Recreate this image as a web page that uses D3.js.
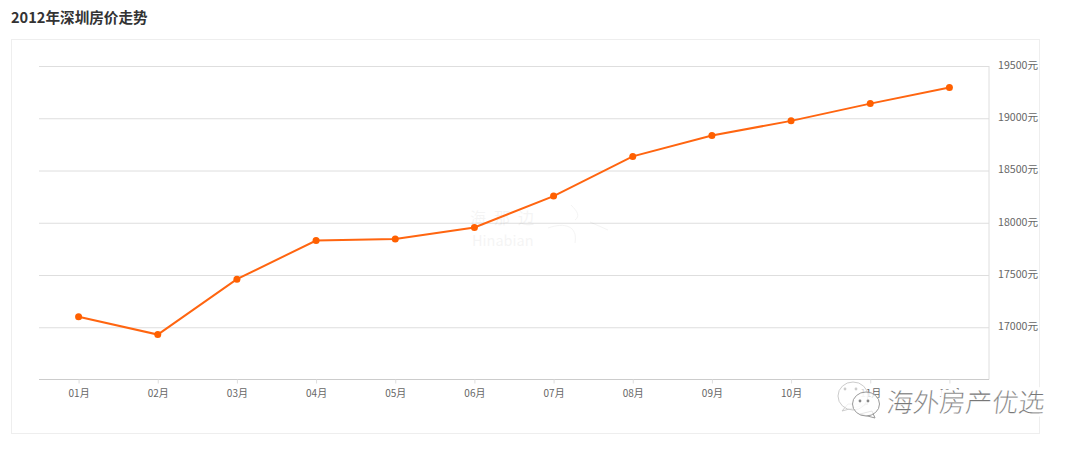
<!DOCTYPE html>
<html><head><meta charset="utf-8">
<script src="https://cdn.jsdelivr.net/npm/d3@7"></script>
<style>
html,body{margin:0;padding:0;background:#fff;overflow:hidden}
svg{display:block}
text{font-family:"Noto Sans CJK SC","Open Sans",sans-serif}
</style></head><body><svg id="c" width="1080" height="450"></svg>
<script>
const titleText = "2012年深圳房价走势";
const months = ["01月","02月","03月","04月","05月","06月","07月","08月","09月","10月","11月","12月"];
const prices = [17100,16930,17460,17830,17845,17955,18255,18635,18835,18975,19140,19295];
const yTicks = [17000,17500,18000,18500,19000,19500];
const svg = d3.select("#c");
const L=39,R=989,T=66,B=379.5;
svg.append("text").attr("x",11).attr("y",23).attr("font-size",14.6).attr("font-weight",700).attr("fill","#333").text(titleText);
svg.append("rect").attr("x",11.5).attr("y",39.5).attr("width",1028).attr("height",394).attr("fill","#fff").attr("stroke","#eee");
const x=d3.scalePoint().domain(months).range([L,R]).padding(0.5);
const y=d3.scaleLinear().domain([16500,19500]).range([B,T]);
const ya=d3.axisRight(y).tickValues(yTicks).tickSize(-(R-L)).tickPadding(9).tickFormat(d=>d+"元");
const gy=svg.append("g").attr("transform",`translate(${R},0)`).call(ya);
gy.selectAll(".tick line").attr("stroke","#dedede");
gy.select(".domain").attr("stroke","#dedede").attr("d",`M0,${T}V${B}`);
gy.selectAll("text").attr("font-size",10.6).attr("fill","#666").attr("x",9).attr("dy","0.22em");
const xa=d3.axisBottom(x).tickSize(4).tickPadding(6);
const gx=svg.append("g").attr("transform",`translate(0,${B})`).call(xa);
gx.select(".domain").attr("stroke","#ccc").attr("d",`M${L},0H${R}`);
gx.selectAll(".tick line").attr("stroke","#dedede");
gx.selectAll("text").attr("font-size",10).attr("fill","#666");
// faint watermark behind the line
const wm=svg.append("g").attr("fill","#000").attr("opacity",0.04);
wm.append("text").attr("x",470).attr("y",224).attr("font-size",16).attr("letter-spacing",8).text("海那边");
wm.append("text").attr("x",472).attr("y",246).attr("font-size",14.5).text("Hinabian");
wm.append("path").attr("fill","none").attr("stroke","#000").attr("d","M548,228C565,222 578,226 575,243M571,205C578,212 580,216 575,220M590,222L608,230");
const line=d3.line().x((d,i)=>x(months[i])).y(d=>y(d));
svg.append("path").datum(prices).attr("d",line).attr("fill","none").attr("stroke","#ff6510").attr("stroke-width",2);
svg.selectAll("circle.p").data(prices).join("circle").attr("class","p")
 .attr("cx",(d,i)=>x(months[i])).attr("cy",d=>y(d)).attr("r",3.5).attr("fill","#ff6000");
// channel stamp
const st=svg.append("g");
st.append("path").attr("d","M842,411L848,404L868,404Z").attr("fill","#fff").attr("stroke","#ccc");
st.append("ellipse").attr("cx",853).attr("cy",396).attr("rx",15).attr("ry",14).attr("fill","#fff").attr("fill-opacity",0.7).attr("stroke","#ccc");
st.append("path").attr("d","M875,418L872,411L860,414Z").attr("fill","#fff").attr("stroke","#999");
st.append("ellipse").attr("cx",866).attr("cy",404).attr("rx",13.5).attr("ry",12).attr("fill","#fff").attr("fill-opacity",0.75).attr("stroke","#999");
st.selectAll("circle.e").data([[845,389,"#ccc"],[856,389,"#ccc"],[860,401,"#888"],[868,401,"#888"]]).join("circle").attr("class","e")
 .attr("cx",d=>d[0]).attr("cy",d=>d[1]).attr("r",1.4).attr("fill",d=>d[2]);
const stamp="海外房产优选";
st.append("text").attr("transform","translate(886,412) skewX(-6)").attr("font-size",26.3).attr("font-weight",300).attr("fill","none").attr("stroke","#fff").attr("stroke-width",6).text(stamp);
st.append("text").attr("transform","translate(886,412) skewX(-6)").attr("font-size",26.3).attr("font-weight",300).attr("fill","#777").attr("stroke","#fff").attr("stroke-width",0.2).text(stamp);
</script></body></html>
